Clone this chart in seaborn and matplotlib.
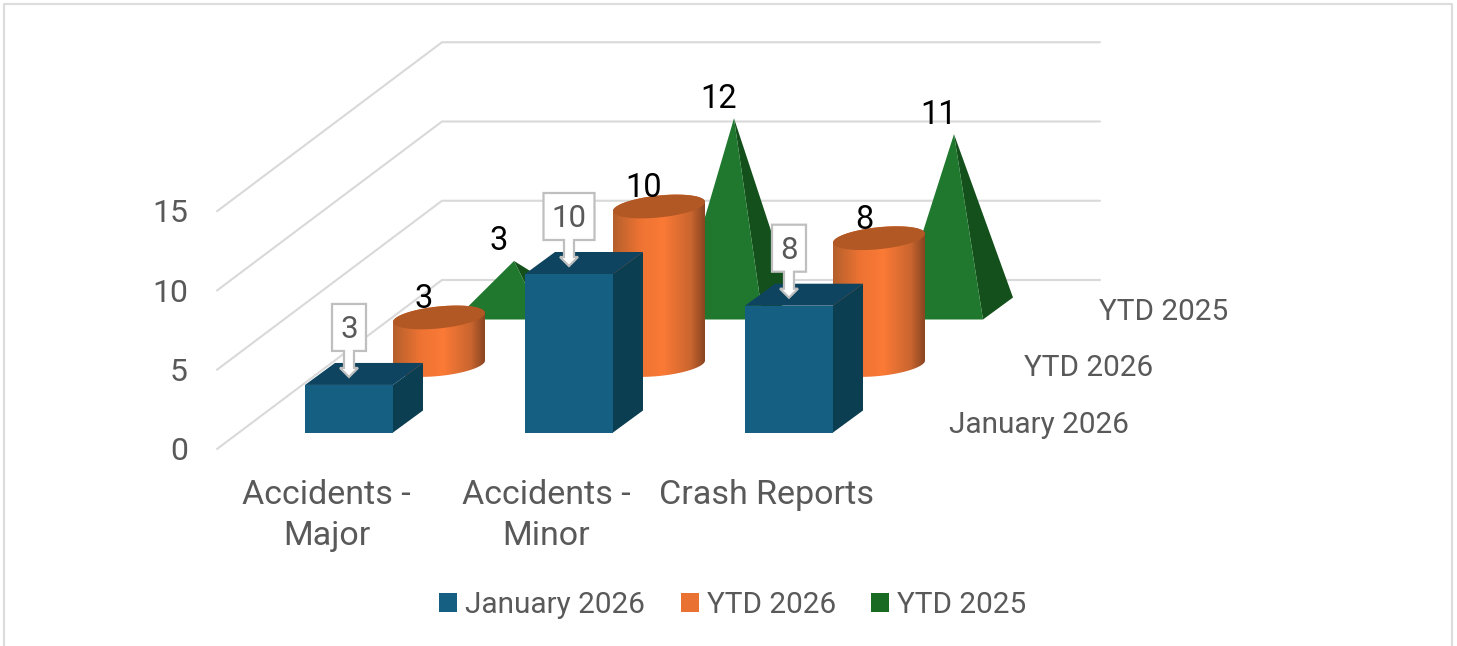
import numpy as np
import pandas as pd
import seaborn as sns
import matplotlib.pyplot as plt
from matplotlib.colors import LinearSegmentedColormap
from matplotlib.lines import Line2D
from matplotlib.patches import Patch, Polygon

categories = ["Accidents -\nMajor", "Accidents -\nMinor", "Crash Reports"]
january_2026 = [3, 10, 8]
ytd_2026 = [3, 10, 8]
ytd_2025 = [3, 12, 11]
series_names = ["January 2026", "YTD 2026", "YTD 2025"]
grid_values = [0, 5, 10, 15]

BLUE, BLUE_TOP, BLUE_SIDE = "#156082", "#0F4460", "#0C3E52"
ORANGE, ORANGE_TOP = "#E97132", "#B25825"
GREEN, GREEN_FRONT, GREEN_SIDE = "#196B24", "#20782E", "#14501B"
GRID = "#D9D9D9"
TEXT = "#595959"

W, H = 1457, 646
# oblique projection, all in pixels of the picture
CAT_PX = 220
VAL_PX = 15.85
X0, Y0 = 349, 432.5        # centre of first front bar, at value 0
STEP_X, STEP_Y = 75, 56.5   # one series further back
BOX_W = 88
BOX_DX, BOX_DY = 30, 22


def dx(px):
    return px / CAT_PX


def dy(px):
    return px / VAL_PX


def cell(cat, series):
    # centre of the base of a mark (middle of its depth) in data units
    return (cat + dx(BOX_DX / 2 + STEP_X * series), dy(BOX_DY / 2 + STEP_Y * series))


def ellipse_xy(cx, cy, start, end):
    t = np.linspace(start, end, 60)
    x = cx + dx(46) * np.cos(t)
    y = cy + dy(11) * np.sin(t) + dy(4.5) * np.cos(t)
    return np.column_stack([x, y])


def draw_cylinder(ax, cat, value, zorder):
    cx, cy = cell(cat, 1)
    upper = ellipse_xy(cx, cy + value, np.pi, 0)
    lower = ellipse_xy(cx, cy, 0, -np.pi)
    body = Polygon(np.vstack([upper, lower]), closed=True, fc="none", ec="none", zorder=zorder)
    ax.add_patch(body)
    img = ax.imshow(np.linspace(0, 1, 200)[None, :], cmap=cylinder_cmap, aspect="auto",
                    extent=(cx - dx(46), cx + dx(46), cy - dy(12), cy + value + dy(12)),
                    zorder=zorder)
    img.set_clip_path(body)
    top = ellipse_xy(cx, cy + value, 0, 2 * np.pi)
    ax.add_patch(Polygon(top, closed=True, fc=ORANGE_TOP, ec="none", zorder=zorder + 0.1))
    ax.text(cx - dx(15), cy + value + dy(18.5), str(value), fontsize=23.5, color="black",
            ha="center", va="center", zorder=6)


def draw_pyramid(ax, cat, value, zorder):
    cx, cy = cell(cat, 2)
    apex = (cx, cy + value)
    left = (cx - dx(BOX_DX / 2 + BOX_W / 2), cy - dy(BOX_DY / 2))
    right = (cx + dx(BOX_W / 2 - BOX_DX / 2), cy - dy(BOX_DY / 2))
    back = (right[0] + dx(BOX_DX), right[1] + dy(BOX_DY))
    ax.add_patch(Polygon([right, back, apex], fc=GREEN_SIDE, ec="none", zorder=zorder))
    ax.add_patch(Polygon([left, right, apex], fc=GREEN_FRONT, ec="none", zorder=zorder))
    ax.text(cx - dx(15), cy + value + dy(19.5), str(value), fontsize=23.5, color="black",
            ha="center", va="center", zorder=6)


def draw_box_depth(ax, cat, value, zorder):
    r = cat + dx(BOX_W / 2)
    l = cat - dx(BOX_W / 2)
    ox, oy = dx(BOX_DX), dy(BOX_DY)
    ax.add_patch(Polygon([(r, 0), (r + ox, oy), (r + ox, value + oy), (r, value)],
                         fc=BLUE_SIDE, ec="none", zorder=zorder))
    ax.add_patch(Polygon([(l, value), (r, value), (r + ox, value + oy), (l + ox, value + oy)],
                         fc=BLUE_TOP, ec="none", zorder=zorder))


def draw_callout(ax, cat, value):
    half = 17 if value < 10 else 25.5
    tip = value + dy(8)
    # shape in pixels relative to the tip
    shape = [(0, 0), (-9, 9), (-5, 9), (-5, 26), (-half, 26), (-half, 73), (half, 73),
             (half, 26), (5, 26), (5, 9), (9, 9)]
    pts = [(cat + dx(a), tip + dy(b)) for a, b in shape]
    ax.add_patch(Polygon(pts, closed=True, fc="white", ec="#BFBFBF", lw=1.6, zorder=5))
    ax.text(cat, tip + dy(47.5), str(value), fontsize=22.5, color=TEXT,
            ha="center", va="center", zorder=6)


sns.set_theme(style="white")
plt.rcParams["font.family"] = ["Roboto", "DejaVu Sans"]
cylinder_cmap = LinearSegmentedColormap.from_list(
    "cyl", [(0, "#B4602C"), (0.3, "#EE7333"), (0.55, "#FB7A36"), (0.85, "#C9652F"), (1, "#8A4521")])

fig = plt.figure(figsize=(W / 100, H / 100), dpi=100, facecolor="white")
ax = fig.add_axes([0, 0, 1, 1])

front = pd.DataFrame({"category": categories, "value": january_2026})
sns.barplot(data=front, x="category", y="value", color=BLUE, saturation=1, width=BOX_W / CAT_PX,
            edgecolor=BLUE, linewidth=0, zorder=4, ax=ax)

# walls of the 3d box
wall_x0, wall_y0 = dx(217 - X0), dy(Y0 - 449)
wall_x1, wall_y1 = dx(442 - X0), dy(Y0 - 280)
wall_x2 = dx(1100 - X0)
for v in grid_values:
    ax.plot([wall_x0, wall_x1, wall_x2], [wall_y0 + v, wall_y1 + v, wall_y1 + v],
            color=GRID, lw=1.5, zorder=1, solid_joinstyle="miter")
    ax.text(dx(188 - X0), wall_y0 + v - dy(2.5), str(v), fontsize=23, color=TEXT,
            ha="right", va="center")

for i in range(len(categories)):
    draw_pyramid(ax, i, ytd_2025[i], 2)
    draw_cylinder(ax, i, ytd_2026[i], 3)
    draw_box_depth(ax, i, january_2026[i], 4)
    draw_callout(ax, i, january_2026[i])
    ax.text(i - dx(22.5), dy(Y0 - 479), categories[i], fontsize=24.5, color=TEXT,
            ha="center", va="top", linespacing=1.35, multialignment="center")

for s, name in enumerate(series_names):
    ax.text(dx(949 - X0 + STEP_X * s), dy(Y0 - 425 + STEP_Y * s), name, fontsize=21.4,
            color=TEXT, ha="left", va="center")

handles = [Patch(fc=c, ec="none", label=n) for c, n in zip([BLUE, ORANGE, GREEN], series_names)]
ax.legend(handles=handles, ncol=3, loc="center", bbox_to_anchor=(733 / W, 1 - 605 / H),
          frameon=False, fontsize=21.4, labelcolor=TEXT, handlelength=0.6, handleheight=0.56,
          handletextpad=0.27, columnspacing=1.2, borderpad=0)

ax.set_xlim(dx(-X0), dx(W - X0))
ax.set_ylim(dy(Y0 - H), dy(Y0))
ax.set_axis_off()

# chart frame, open at the bottom
fig.add_artist(Line2D([4 / W, 4 / W, 1452 / W, 1452 / W], [0, 1 - 4 / H, 1 - 4 / H, 0],
                      color="#DDDDDD", lw=1.6))

fig.savefig("out.png", dpi=100)
